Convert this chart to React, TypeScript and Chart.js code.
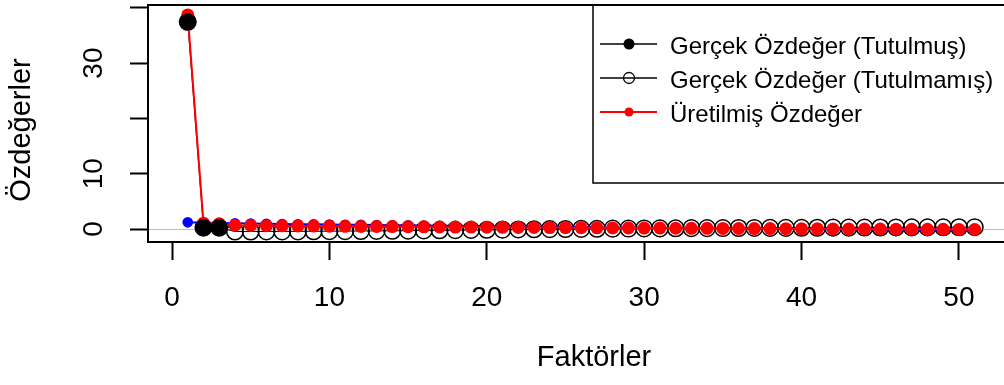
import React, { useEffect, useRef } from "react";
import { Chart, registerables } from "chart.js";

Chart.register(...registerables);

const FONT = "'Liberation Sans', Arial, sans-serif";

const factors = [
  1, 2, 3, 4, 5, 6, 7, 8, 9, 10, 11, 12, 13, 14, 15, 16, 17, 18, 19, 20, 21, 22, 23, 24, 25,
  26, 27, 28, 29, 30, 31, 32, 33, 34, 35, 36, 37, 38, 39, 40, 41, 42, 43, 44, 45, 46, 47, 48,
  49, 50, 51,
];

// Gerçek özdeğerler (ilk 3 tutulmuş, diğerleri tutulmamış)
const realEigen = [
  37.45, 0.25, 0.25, -0.45, -0.45, -0.44, -0.43, -0.42, -0.41, -0.4, -0.38, -0.36, -0.34,
  -0.32, -0.29, -0.26, -0.23, -0.2, -0.17, -0.14, -0.11, -0.08, -0.05, -0.02, 0.0, 0.02, 0.04,
  0.06, 0.08, 0.1, 0.12, 0.13, 0.15, 0.16, 0.17, 0.18, 0.19, 0.2, 0.21, 0.22, 0.23, 0.24, 0.25,
  0.26, 0.27, 0.28, 0.29, 0.3, 0.31, 0.32, 0.33,
];
const retainedFactors = [1, 2, 3];
const retainedEigen = [37.45, 0.25, 0.25];

// Üretilmiş özdeğerler (kırmızı)
const generatedEigen = [
  38.7, 1.05, 0.95, 0.68, 0.64, 0.61, 0.58, 0.56, 0.53, 0.51, 0.49, 0.47, 0.45, 0.43, 0.41,
  0.39, 0.37, 0.35, 0.34, 0.32, 0.3, 0.29, 0.27, 0.26, 0.24, 0.23, 0.21, 0.2, 0.18, 0.17, 0.16,
  0.14, 0.13, 0.12, 0.1, 0.09, 0.08, 0.07, 0.05, 0.04, 0.03, 0.02, 0.01, -0.01, -0.02, -0.03,
  -0.04, -0.05, -0.06, -0.07, -0.09,
];

// Rastgele özdeğerler (mavi)
const randomEigen = [
  1.2, 1.12, 1.07, 1.02, 0.98, 0.94, 0.9, 0.87, 0.84, 0.81, 0.78, 0.75, 0.72, 0.69, 0.66, 0.63,
  0.6, 0.57, 0.54, 0.51, 0.48, 0.45, 0.42, 0.4, 0.37, 0.34, 0.31, 0.28, 0.26, 0.23, 0.2, 0.18,
  0.15, 0.12, 0.1, 0.07, 0.05, 0.02, 0.0, -0.02, -0.05, -0.07, -0.09, -0.11, -0.13, -0.15,
  -0.17, -0.19, -0.21, -0.23, -0.26,
];

const xTicks = [0, 10, 20, 30, 40, 50];
const yTicks = [0, 10, 20, 30, 40];
const yTickLabels = ["0", "10", "", "30", ""];

const xTitle = "Faktörler";
const yTitle = "Özdeğerler";
const legendLabels = [
  "Gerçek Özdeğer (Tutulmuş)",
  "Gerçek Özdeğer (Tutulmamış)",
  "Üretilmiş Özdeğer",
];

const toPoints = (xs: number[], ys: number[]) => xs.map((x, i) => ({ x, y: ys[i] }));

const decorPlugin = {
  id: "decor",
  beforeDatasetsDraw(chart: any) {
    const { ctx, chartArea, scales } = chart;
    const y0 = scales.y.getPixelForValue(0);
    ctx.save();
    ctx.strokeStyle = "#bdbdbd";
    ctx.lineWidth = 1;
    ctx.beginPath();
    ctx.moveTo(chartArea.left, Math.round(y0) + 0.5);
    ctx.lineTo(chartArea.right, Math.round(y0) + 0.5);
    ctx.stroke();
    ctx.restore();
  },
  afterDraw(chart: any) {
    const { ctx, chartArea, scales } = chart;
    ctx.save();
    // plot box
    ctx.strokeStyle = "#000";
    ctx.lineWidth = 2;
    ctx.strokeRect(chartArea.left, chartArea.top, chartArea.right - chartArea.left, chartArea.bottom - chartArea.top);

    // y tick labels (rotated, parallel to axis)
    ctx.fillStyle = "#000";
    ctx.font = `28px ${FONT}`;
    ctx.textAlign = "center";
    ctx.textBaseline = "middle";
    yTicks.forEach((v, i) => {
      const lbl = yTickLabels[i];
      if (!lbl) return;
      const py = scales.y.getPixelForValue(v);
      ctx.save();
      ctx.translate(94, py);
      ctx.rotate(-Math.PI / 2);
      ctx.fillText(lbl, 0, 0);
      ctx.restore();
    });

    // y title
    ctx.save();
    ctx.font = `29px ${FONT}`;
    ctx.translate(22, 130);
    ctx.rotate(-Math.PI / 2);
    ctx.fillText(yTitle, 0, 0);
    ctx.restore();

    // legend
    const lx = 593;
    const ly = chartArea.top;
    ctx.lineWidth = 1.5;
    ctx.strokeStyle = "#000";
    ctx.strokeRect(lx, ly, 1035 - lx, 178);
    const rows = [44, 78, 112];
    ctx.font = `24px ${FONT}`;
    ctx.textAlign = "left";
    ctx.textBaseline = "middle";
    rows.forEach((ry, i) => {
      ctx.beginPath();
      ctx.strokeStyle = i === 2 ? "#ff0000" : "#000";
      ctx.lineWidth = i === 2 ? 2 : 1.5;
      ctx.moveTo(600, ry);
      ctx.lineTo(657, ry);
      ctx.stroke();
      ctx.beginPath();
      if (i === 0) {
        ctx.fillStyle = "#000";
        ctx.arc(629, ry, 5.5, 0, Math.PI * 2);
        ctx.fill();
      } else if (i === 1) {
        ctx.strokeStyle = "#000";
        ctx.lineWidth = 1.3;
        ctx.arc(629, ry, 5.5, 0, Math.PI * 2);
        ctx.stroke();
      } else {
        ctx.fillStyle = "#ff0000";
        ctx.arc(629, ry, 4.5, 0, Math.PI * 2);
        ctx.fill();
      }
      ctx.fillStyle = "#000";
      ctx.fillText(legendLabels[i], 670, ry + 3);
    });
    ctx.restore();
  },
};

export default function App() {
  const ref = useRef<HTMLCanvasElement | null>(null);

  useEffect(() => {
    if (!ref.current) return;
    const chart = new Chart(ref.current, {
      type: "line",
      data: {
        datasets: [
          {
            label: "open",
            data: toPoints(factors, realEigen),
            borderColor: "#000",
            borderWidth: 1,
            pointRadius: 8.3,
            pointBackgroundColor: "rgba(0,0,0,0)",
            pointBorderColor: "#000",
            pointBorderWidth: 1.5,
            order: 3,
          },
          {
            label: "random",
            data: toPoints(factors, randomEigen),
            borderColor: "#0000ff",
            borderWidth: 2,
            pointRadius: 5.3,
            pointBackgroundColor: "#0000ff",
            pointBorderWidth: 0,
            order: 2,
          },
          {
            label: legendLabels[2],
            data: toPoints(factors, generatedEigen),
            borderColor: "#ff0000",
            borderWidth: 2,
            pointRadius: 6.5,
            pointBackgroundColor: "#ff0000",
            pointBorderWidth: 0,
            order: 1,
          },
          {
            label: legendLabels[0],
            data: toPoints(retainedFactors, retainedEigen),
            showLine: false,
            pointRadius: 8.5,
            pointBackgroundColor: "#000",
            pointBorderColor: "#000",
            pointBorderWidth: 0,
            order: 0,
          },
        ],
      },
      options: {
        responsive: false,
        animation: false,
        events: [],
        devicePixelRatio: 1,
        layout: { autoPadding: false, padding: { top: 5, right: 10, left: 0, bottom: 0 } },
        plugins: { legend: { display: false }, tooltip: { enabled: false } },
        scales: {
          x: {
            type: "linear",
            min: -1.525,
            max: 55.15,
            afterFit: (s: any) => {
              s.height = 143;
            },
            afterBuildTicks: (s: any) => {
              s.ticks = xTicks.map((v) => ({ value: v }));
            },
            grid: {
              display: true,
              drawOnChartArea: false,
              drawTicks: true,
              tickLength: 18,
              tickWidth: 2,
              tickColor: "#000",
            },
            border: { display: false },
            ticks: {
              color: "#000",
              font: { size: 28, family: FONT },
              padding: 21,
              maxRotation: 0,
              autoSkip: false,
            },
            title: {
              display: true,
              text: xTitle,
              color: "#000",
              font: { size: 29, family: FONT },
              padding: { top: 0, bottom: 10 },
            },
          },
          y: {
            type: "linear",
            min: -2.35,
            max: 40.5,
            afterFit: (s: any) => {
              s.width = 148;
            },
            afterBuildTicks: (s: any) => {
              s.ticks = yTicks.map((v) => ({ value: v }));
            },
            grid: {
              display: true,
              drawOnChartArea: false,
              drawTicks: true,
              tickLength: 18,
              tickWidth: 2,
              tickColor: "#000",
            },
            border: { display: false },
            ticks: { display: false },
          },
        },
      },
      plugins: [decorPlugin],
    });
    return () => chart.destroy();
  }, []);

  return (
    <div
      style={{
        position: "fixed",
        left: 0,
        top: 0,
        width: 1004,
        height: 385,
        overflow: "hidden",
        background: "#fff",
      }}
    >
      <canvas ref={ref} width={1050} height={385} style={{ width: 1050, height: 385 }} />
    </div>
  );
}
